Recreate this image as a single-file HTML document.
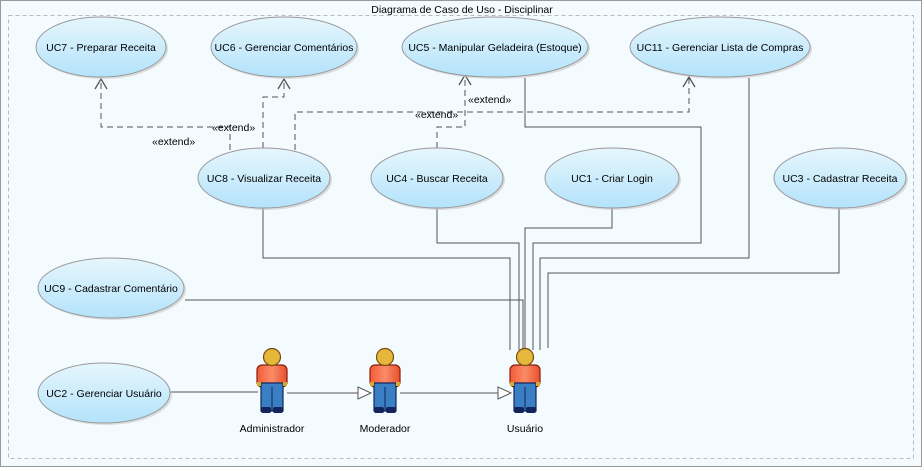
<!DOCTYPE html>
<html><head><meta charset="utf-8"><style>
html,body{margin:0;padding:0;background:#fff;}
svg{display:block;font-family:"Liberation Sans",sans-serif;}
</style></head><body>
<svg width="924" height="471" viewBox="0 0 924 471" xmlns="http://www.w3.org/2000/svg">
<defs>
<linearGradient id="g" x1="0" y1="0" x2="0" y2="1">
<stop offset="0" stop-color="#e6f6fd"/><stop offset="1" stop-color="#b3e3fb"/>
</linearGradient>
<linearGradient id="shirt" x1="0" y1="0" x2="1" y2="0">
<stop offset="0" stop-color="#f25b37"/><stop offset="0.5" stop-color="#fb8c68"/><stop offset="1" stop-color="#e8502c"/>
</linearGradient>
<g id="actor">
<rect x="-15" y="16" width="30" height="22" rx="5" fill="url(#shirt)" stroke="#8a1e08" stroke-width="1.2"/>
<rect x="-11" y="34" width="22" height="28" fill="#3a7fc4" stroke="#13245c" stroke-width="1.2"/>
<line x1="0" y1="38" x2="0" y2="62" stroke="#13245c"/>
<rect x="-11" y="58" width="10" height="6" rx="2" fill="#13245c"/>
<rect x="1" y="58" width="10" height="6" rx="2" fill="#13245c"/>
<rect x="-15" y="33" width="4" height="4" fill="#d9a830"/>
<rect x="11" y="33" width="4" height="4" fill="#d9a830"/>
<circle cx="0" cy="8" r="8.5" fill="#e5b73b" stroke="#7a4a10" stroke-width="1.2"/>
</g>
</defs>
<rect x="0" y="0" width="924" height="471" fill="#fff"/>
<rect x="0.5" y="0.5" width="921" height="466" fill="#f4fbfe" stroke="#999"/>
<rect x="8.5" y="15.5" width="905" height="443" fill="none" stroke="#bbb" stroke-dasharray="4,3"/>
<text x="462" y="13" font-size="10.5" text-anchor="middle" fill="#000">Diagrama de Caso de Uso - Disciplinar</text>

<g fill="none" stroke="#555" stroke-width="1">
<polyline points="263,208 263,258 510,258 510,350"/>
<polyline points="437,208 437,243 519,243 519,350"/>
<polyline points="185,300 523,300 523,350"/>
<polyline points="612,208 612,228 525,228 525,350"/>
<polyline points="525,78 525,127 701,127 701,243 533,243 533,350"/>
<polyline points="749,78 749,258 540,258 540,350"/>
<polyline points="839,208 839,273 548,273 548,348"/>
<line x1="170" y1="392" x2="258" y2="392"/>
<line x1="287" y1="393" x2="360" y2="393"/>
<line x1="400" y1="393" x2="498" y2="393"/>
</g>
<g fill="#fff" stroke="#555">
<polygon points="371,393 358,387 358,399"/>
<polygon points="511,393 498,387 498,399"/>
</g>
<g fill="none" stroke="#555" stroke-dasharray="6,4">
<polyline points="230,150 230,127 101,127 101,82"/>
<polyline points="263,148 263,97 284,97 284,82"/>
<polyline points="295,150 295,112 689,112 689,78"/>
<polyline points="437,148 437,127 465,127 465,76"/>
</g>
<g fill="none" stroke="#555" stroke-width="1.3">
<polyline points="95,89 101,79 107,89"/>
<polyline points="278,89 284,79 290,89"/>
<polyline points="683,87 689,77 695,87"/>
<polyline points="459,85 465,75 471,85"/>
</g>
<g font-size="10.5" fill="#000">
<text x="212" y="131">«extend»</text>
<text x="152" y="145">«extend»</text>
<text x="415" y="118">«extend»</text>
<text x="468" y="103">«extend»</text>
</g>

<g fill="#c8c8c8" opacity="0.6">
<ellipse cx="103" cy="49" rx="65" ry="30"/>
<ellipse cx="286" cy="49" rx="73" ry="30"/>
<ellipse cx="497" cy="49" rx="93" ry="30"/>
<ellipse cx="722" cy="49" rx="90" ry="30"/>
<ellipse cx="266" cy="180" rx="66" ry="30"/>
<ellipse cx="439" cy="180" rx="66" ry="30"/>
<ellipse cx="614" cy="180" rx="67" ry="30"/>
<ellipse cx="842" cy="180" rx="66" ry="30"/>
<ellipse cx="113" cy="290" rx="73" ry="30"/>
<ellipse cx="106" cy="395" rx="66" ry="30"/>
</g>
<g stroke="#999" fill="url(#g)">
<ellipse cx="101" cy="47" rx="65" ry="30"/>
<ellipse cx="284" cy="47" rx="73" ry="30"/>
<ellipse cx="495" cy="47" rx="93" ry="30"/>
<ellipse cx="720" cy="47" rx="90" ry="30"/>
<ellipse cx="264" cy="178" rx="66" ry="30"/>
<ellipse cx="437" cy="178" rx="66" ry="30"/>
<ellipse cx="612" cy="178" rx="67" ry="30"/>
<ellipse cx="840" cy="178" rx="66" ry="30"/>
<ellipse cx="111" cy="288" rx="73" ry="30"/>
<ellipse cx="104" cy="393" rx="66" ry="30"/>
</g>
<g font-size="10.5" fill="#000" text-anchor="middle">
<text x="101" y="51">UC7 - Preparar Receita</text>
<text x="284" y="51">UC6 - Gerenciar Comentários</text>
<text x="495" y="51">UC5 - Manipular Geladeira (Estoque)</text>
<text x="720" y="51">UC11 - Gerenciar Lista de Compras</text>
<text x="264" y="182">UC8 - Visualizar Receita</text>
<text x="437" y="182">UC4 - Buscar Receita</text>
<text x="612" y="182">UC1 - Criar Login</text>
<text x="840" y="182">UC3 - Cadastrar Receita</text>
<text x="111" y="292">UC9 - Cadastrar Comentário</text>
<text x="104" y="397">UC2 - Gerenciar Usuário</text>
<text x="272" y="432">Administrador</text>
<text x="385" y="432">Moderador</text>
<text x="525" y="432">Usuário</text>
</g>
<use href="#actor" x="272" y="349"/>
<use href="#actor" x="385" y="349"/>
<use href="#actor" x="525" y="349"/>
</svg>
</body></html>
